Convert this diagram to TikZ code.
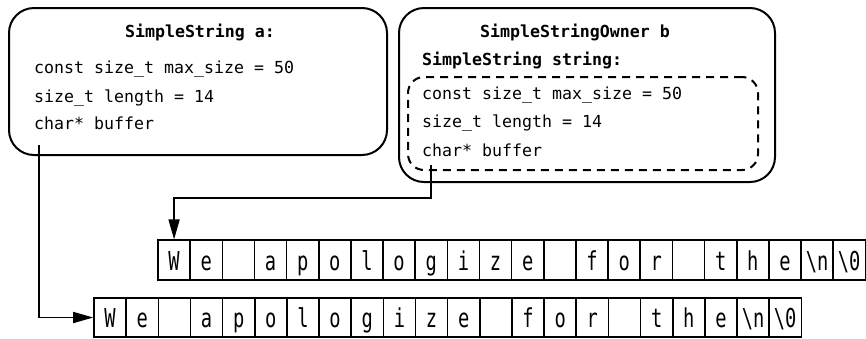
\documentclass[tikz,border=0pt]{standalone}
\usepackage{fontspec}
\setmonofont{DejaVu Sans Mono}
\newfontfamily\cellfont[FakeStretch=0.72]{DejaVu Sans Mono}
\usepackage{tikz}
\usetikzlibrary{shapes,arrows,arrows.meta}

\begin{document}
\begin{tikzpicture}[x=1pt,y=-1pt]
\tikzstyle{every node}=[font=\ttfamily\fontsize{16.6}{20}\selectfont]
\tikzstyle{membox}=[draw, line width=2pt, rounded corners=25pt, inner sep=0pt]
\tikzstyle{innerbox}=[draw, line width=2pt, dash pattern=on 8pt off 6pt, rounded corners=16pt, inner sep=0pt]
\tikzstyle{field}=[anchor=base west, inner sep=0pt]
\tikzstyle{title}=[anchor=base, inner sep=0pt, font=\ttfamily\bfseries\fontsize{16.6}{20}\selectfont]
\tikzstyle{cell}=[draw, line width=1.6pt, minimum width=32.15pt, minimum height=39.5pt, inner sep=0pt, text height=20pt, text depth=0pt, font=\cellfont\fontsize{26}{28}\selectfont]
\tikzstyle{ptr}=[line width=1.6pt, -{Triangle[length=20pt,width=11pt]}]
\useasboundingbox (0,0) rectangle (866,338);

% SimpleString a
\node[membox, minimum width=378pt, minimum height=147pt] (boxa) at (198,81.5) {};
\node[title] (titlea) at (200,37) {SimpleString a:};
\node[field] (amax) at (34,73) {const size\_t max\_size = 50};
\node[field] (alen) at (34,102) {size\_t length = 14};
\node[field] (abuf) at (34,129) {char* buffer};

% SimpleStringOwner b
\node[membox, minimum width=376pt, minimum height=174pt] (boxb) at (587,95) {};
\node[innerbox, minimum width=350pt, minimum height=93pt] (boxs) at (583,123.5) {};
\node[title] (titleb) at (575,37) {SimpleStringOwner b};
\node[title, anchor=base west] (sname) at (422,65) {SimpleString string:};
\node[field] (bmax) at (422,99) {const size\_t max\_size = 50};
\node[field] (blen) at (422,127) {size\_t length = 14};
\node[field] (bbuf) at (422,156) {char* buffer};

% buffers
\foreach \c [count=\i] in {W,e,{},a,p,o,l,o,g,i,z,e,{},f,o,r,{},t,h,e,{\textbackslash n},{\textbackslash 0}}{
  \node[cell] (top\i) at ({158+32.15*(\i-0.5)},260) {\c};
  \node[cell] (bot\i) at ({94+32.15*(\i-0.5)},317.5) {\c};
}

% pointers
\coordinate (aptr) at (39,145);
\coordinate (bptr) at (431,165);
\draw[ptr] (aptr) |- (bot1.west);
\draw[ptr] (bptr) -- ++(0,33) -| (top1.north);
\end{tikzpicture}
\end{document}
